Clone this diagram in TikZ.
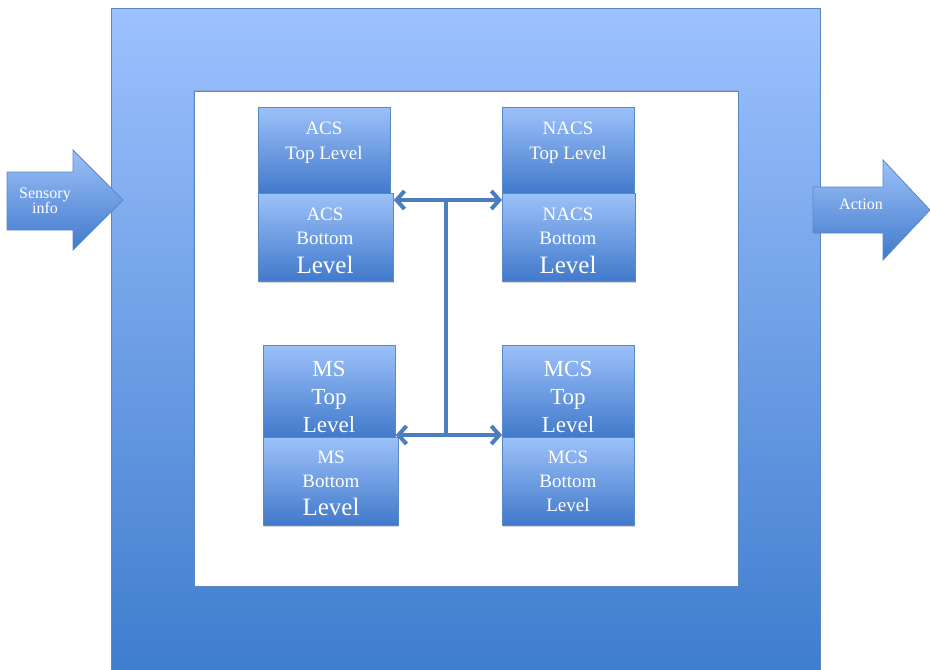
\documentclass[tikz,border=0pt]{standalone}
\usepackage{fontspec}
\setmainfont{Liberation Serif}
\usetikzlibrary{arrows.meta,shadows,calc}
\definecolor{frameTop}{HTML}{9DC1FE}
\definecolor{frameBot}{HTML}{3F7DCE}
\definecolor{boxTop}{HTML}{9CC1F9}
\definecolor{boxBot}{HTML}{4179CB}
\definecolor{edgec}{HTML}{5A87C5}
\definecolor{linkc}{HTML}{4C7DBE}
\tikzset{
  blockbox/.style={draw=edgec, line width=0.8pt, top color=boxTop, bottom color=boxBot,
    drop shadow={opacity=0.3,shadow xshift=1pt,shadow yshift=-2pt},
    inner sep=0pt, anchor=north west},
  txt/.style={text=white, inner sep=0pt, text depth=0pt},
  sm/.style={txt, text height=12.5pt, font=\fontsize{19}{19}\selectfont},
  md/.style={txt, text height=15.2pt, font=\fontsize{23}{23}\selectfont},
  lg/.style={txt, text height=16.5pt, font=\fontsize{25}{25}\selectfont},
  tiny/.style={txt, text height=10.5pt, font=\fontsize{16}{16}\selectfont},
  linkline/.style={draw=linkc, line width=4pt},
  linkarrow/.style={linkline, {Straight Barb[length=8pt,width=18pt]}-{Straight Barb[length=8pt,width=18pt]}},
}
\begin{document}
\begin{tikzpicture}[x=1pt,y=-1pt]
\useasboundingbox (0,0) rectangle (930,670);
% outer frame
\shade[top color=frameTop, bottom color=frameBot, draw=edgec, line width=0.8pt] (111,8) rectangle (820,672);
\fill[white, draw=edgec, line width=0.8pt, drop shadow={opacity=0.25,shadow xshift=-1pt,shadow yshift=1pt}] (194,91) rectangle (738,586);
% input / output arrows
\shade[top color=boxTop, bottom color=boxBot, draw=edgec, line width=0.8pt]
  (7,172) -- (73,172) -- (73,150) -- (123,200) -- (73,250) -- (73,230) -- (7,230) -- cycle;
\node[tiny] (sens1) at (45,193) {Sensory};
\node[tiny] (sens2) at (45,208) {info};
\shade[top color=boxTop, bottom color=boxBot, draw=edgec, line width=0.8pt]
  (813,187) -- (883,187) -- (883,160) -- (930,210) -- (883,260) -- (883,233) -- (813,233) -- cycle;
\node[tiny] (act) at (861,204) {Action};
% ACS
\node[blockbox, minimum width=132pt, minimum height=86pt] (acst) at (258,107) {};
\node[blockbox, minimum width=135pt, minimum height=88pt] (acsb) at (258,193) {};
\node[sm] (acst1) at (324,128) {ACS};
\node[sm] (acst2) at (324,153) {Top Level};
\node[sm] (acsb1) at (325,214) {ACS};
\node[sm] (acsb2) at (325,238) {Bottom};
\node[lg] (acsb3) at (325,265) {Level};
% NACS
\node[blockbox, minimum width=132pt, minimum height=86pt] (nacst) at (502,107) {};
\node[blockbox, minimum width=133pt, minimum height=88pt] (nacsb) at (502,193) {};
\node[sm] (nacst1) at (568,128) {NACS};
\node[sm] (nacst2) at (568,153) {Top Level};
\node[sm] (nacsb1) at (568,214) {NACS};
\node[sm] (nacsb2) at (568,238) {Bottom};
\node[lg] (nacsb3) at (568,265) {Level};
% MS
\node[blockbox, minimum width=132pt, minimum height=92pt] (mst) at (263,345) {};
\node[blockbox, minimum width=135pt, minimum height=88pt] (msb) at (263,437) {};
\node[md] (mst1) at (329,369) {MS};
\node[md] (mst2) at (329,397) {Top};
\node[md] (mst3) at (329,425) {Level};
\node[sm] (msb1) at (331,457) {MS};
\node[sm] (msb2) at (331,481) {Bottom};
\node[lg] (msb3) at (331,507) {Level};
% MCS
\node[blockbox, minimum width=132pt, minimum height=92pt] (mcst) at (502,345) {};
\node[blockbox, minimum width=132pt, minimum height=88pt] (mcsb) at (502,437) {};
\node[md] (mcst1) at (568,369) {MCS};
\node[md] (mcst2) at (568,397) {Top};
\node[md] (mcst3) at (568,425) {Level};
\node[sm] (mcsb1) at (568,457) {MCS};
\node[sm] (mcsb2) at (568,481) {Bottom};
\node[sm] (mcsb3) at (568,505) {Level};
% connectors
\coordinate (jtop) at (446,200);
\coordinate (jbot) at (446,435);
\draw[linkline] (jtop) -- (jbot);
\draw[linkarrow] (acsb.north east |- jtop) -- (nacsb.north west |- jtop);
\draw[linkarrow] (mst.south east |- jbot) -- (mcst.south west |- jbot);
\end{tikzpicture}
\end{document}
